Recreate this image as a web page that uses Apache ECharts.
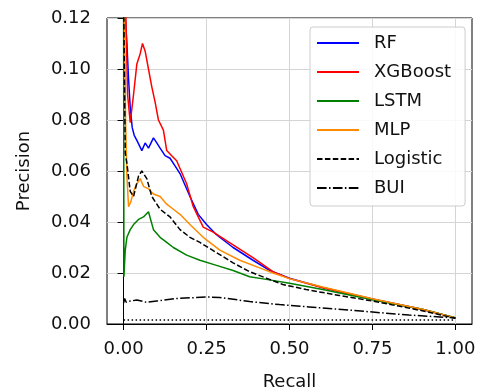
<!DOCTYPE html>
<html>
<head>
<meta charset="utf-8">
<script src="https://cdn.jsdelivr.net/npm/echarts@6/dist/echarts.min.js"></script>
<style>
  html, body { margin: 0; padding: 0; background: #fff; }
  #chart { width: 493px; height: 390px; }
</style>
</head>
<body>
<div id="chart"></div>
<script>
// [recall, precision] pairs
const rf = [[0.000,0.130],[0.010,0.110],[0.015,0.096],[0.020,0.085],[0.026,0.077],[0.032,0.074],[0.040,0.072],[0.055,0.068],[0.065,0.071],[0.075,0.069],[0.090,0.073],[0.100,0.071],[0.110,0.069],[0.125,0.066],[0.140,0.065],[0.155,0.062],[0.170,0.059],[0.200,0.050],[0.225,0.043],[0.250,0.039],[0.280,0.035],[0.330,0.030],[0.390,0.025],[0.440,0.021],[0.500,0.0180],[0.600,0.0143],[0.750,0.0098],[0.900,0.0058],[1.000,0.0024]];
const xgboost = [[0.005,0.130],[0.008,0.115],[0.012,0.090],[0.020,0.079],[0.030,0.090],[0.040,0.102],[0.050,0.106],[0.057,0.110],[0.065,0.107],[0.075,0.100],[0.085,0.093],[0.095,0.087],[0.105,0.080],[0.120,0.076],[0.130,0.068],[0.145,0.066],[0.160,0.064],[0.170,0.061],[0.190,0.055],[0.210,0.046],[0.240,0.038],[0.270,0.036],[0.330,0.031],[0.390,0.026],[0.450,0.0205],[0.500,0.0178],[0.600,0.0142],[0.750,0.0097],[0.900,0.0057],[1.000,0.0024]];
const lstm = [[0.000,0.130],[0.001,0.0185],[0.005,0.029],[0.010,0.034],[0.020,0.037],[0.030,0.039],[0.045,0.041],[0.060,0.042],[0.075,0.044],[0.090,0.037],[0.110,0.034],[0.130,0.032],[0.150,0.030],[0.190,0.027],[0.230,0.025],[0.280,0.023],[0.330,0.021],[0.380,0.0185],[0.430,0.0175],[0.500,0.0160],[0.600,0.0135],[0.750,0.0095],[0.900,0.0058],[1.000,0.0025]];
const mlp = [[0.002,0.130],[0.006,0.080],[0.010,0.058],[0.015,0.046],[0.022,0.048],[0.030,0.052],[0.040,0.055],[0.050,0.057],[0.060,0.054],[0.075,0.053],[0.090,0.051],[0.110,0.050],[0.130,0.047],[0.150,0.045],[0.170,0.043],[0.200,0.039],[0.240,0.034],[0.290,0.029],[0.350,0.025],[0.410,0.022],[0.450,0.0200],[0.500,0.0178],[0.600,0.0145],[0.750,0.0099],[0.900,0.0058],[1.000,0.0024]];
const logistic = [[0.000,0.130],[0.005,0.067],[0.010,0.063],[0.020,0.052],[0.030,0.050],[0.045,0.058],[0.055,0.060],[0.070,0.057],[0.085,0.050],[0.110,0.045],[0.140,0.042],[0.170,0.037],[0.200,0.034],[0.230,0.032],[0.280,0.028],[0.330,0.024],[0.380,0.0205],[0.430,0.018],[0.480,0.0155],[0.550,0.0135],[0.650,0.0112],[0.750,0.0090],[0.900,0.0052],[1.000,0.0022]];
const bui = [[0.000,0.0082],[0.003,0.0100],[0.008,0.0085],[0.020,0.0090],[0.040,0.0094],[0.070,0.0085],[0.100,0.0090],[0.160,0.0100],[0.250,0.0106],[0.290,0.0104],[0.380,0.0088],[0.470,0.0076],[0.560,0.0067],[0.750,0.0047],[0.860,0.0035],[1.000,0.0024]];
const baseline = [[0,0.0016],[1,0.0016]];
const xTicks = [0, 0.25, 0.5, 0.75, 1];

const font = 'DejaVu Sans';
const chart = echarts.init(document.getElementById('chart'));

const line = (name, data, color, type) => ({
  name,
  type: 'line',
  data,
  symbol: 'none',
  clip: true,
  lineStyle: { color, width: 1.5, type: type || 'solid' },
  itemStyle: { color },
});

chart.setOption({
  animation: false,
  grid: {
    left: 107, right: 21, top: 18, bottom: 66,
    outerBoundsMode: 'none',
    show: true, borderColor: '#000', borderWidth: 1,
  },
  legend: {
    orient: 'vertical',
    left: 310, top: 27,
    padding: [7, 14, 9, 6],
    itemWidth: 42,
    itemHeight: 14,
    itemGap: 11,
    itemStyle: { opacity: 0 },
    backgroundColor: 'rgba(255,255,255,0.85)',
    borderColor: '#ccc',
    borderWidth: 1,
    borderRadius: 3,
    textStyle: { fontFamily: font, fontSize: 18, color: '#111', padding: [0, 0, 0, 10] },
    data: ['RF', 'XGBoost', 'LSTM', 'MLP', 'Logistic', 'BUI'],
  },
  xAxis: {
    type: 'value',
    min: -0.05, max: 1.05,
    name: 'Recall',
    nameLocation: 'middle',
    nameGap: 49,
    nameTextStyle: { fontFamily: font, fontSize: 18, color: '#111' },
    axisLine: { show: true, onZero: false, lineStyle: { color: '#000', width: 1 } },
    axisTick: { show: true, length: 6, customValues: xTicks, lineStyle: { color: '#000' } },
    axisLabel: {
      customValues: xTicks, margin: 16,
      fontFamily: font, fontSize: 18, color: '#111',
      formatter: v => v.toFixed(2),
    },
    splitLine: { show: true, lineStyle: { color: '#d5d5d5', width: 1 } },
  },
  yAxis: {
    type: 'value',
    min: 0, max: 0.12, interval: 0.02,
    name: 'Precision',
    nameLocation: 'middle',
    nameGap: 74,
    nameTextStyle: { fontFamily: font, fontSize: 18, color: '#111' },
    axisLine: { show: true, lineStyle: { color: '#000', width: 1 } },
    axisTick: { show: true, length: 6, lineStyle: { color: '#000' } },
    axisLabel: {
      margin: 16,
      fontFamily: font, fontSize: 18, color: '#111',
      formatter: v => v.toFixed(2),
    },
    splitLine: { show: true, lineStyle: { color: '#d5d5d5', width: 1 } },
  },
  series: [
    line('RF', rf, '#0000ff'),
    line('XGBoost', xgboost, '#ff0000'),
    line('LSTM', lstm, '#008000'),
    line('MLP', mlp, '#ff8c00'),
    line('Logistic', logistic, '#000000', [5.5, 2.4]),
    line('BUI', bui, '#000000', [9.6, 2.4, 1.5, 2.4]),
    line('', baseline, '#000000', [1.5, 2.5]),
  ],
});
</script>
</body>
</html>
